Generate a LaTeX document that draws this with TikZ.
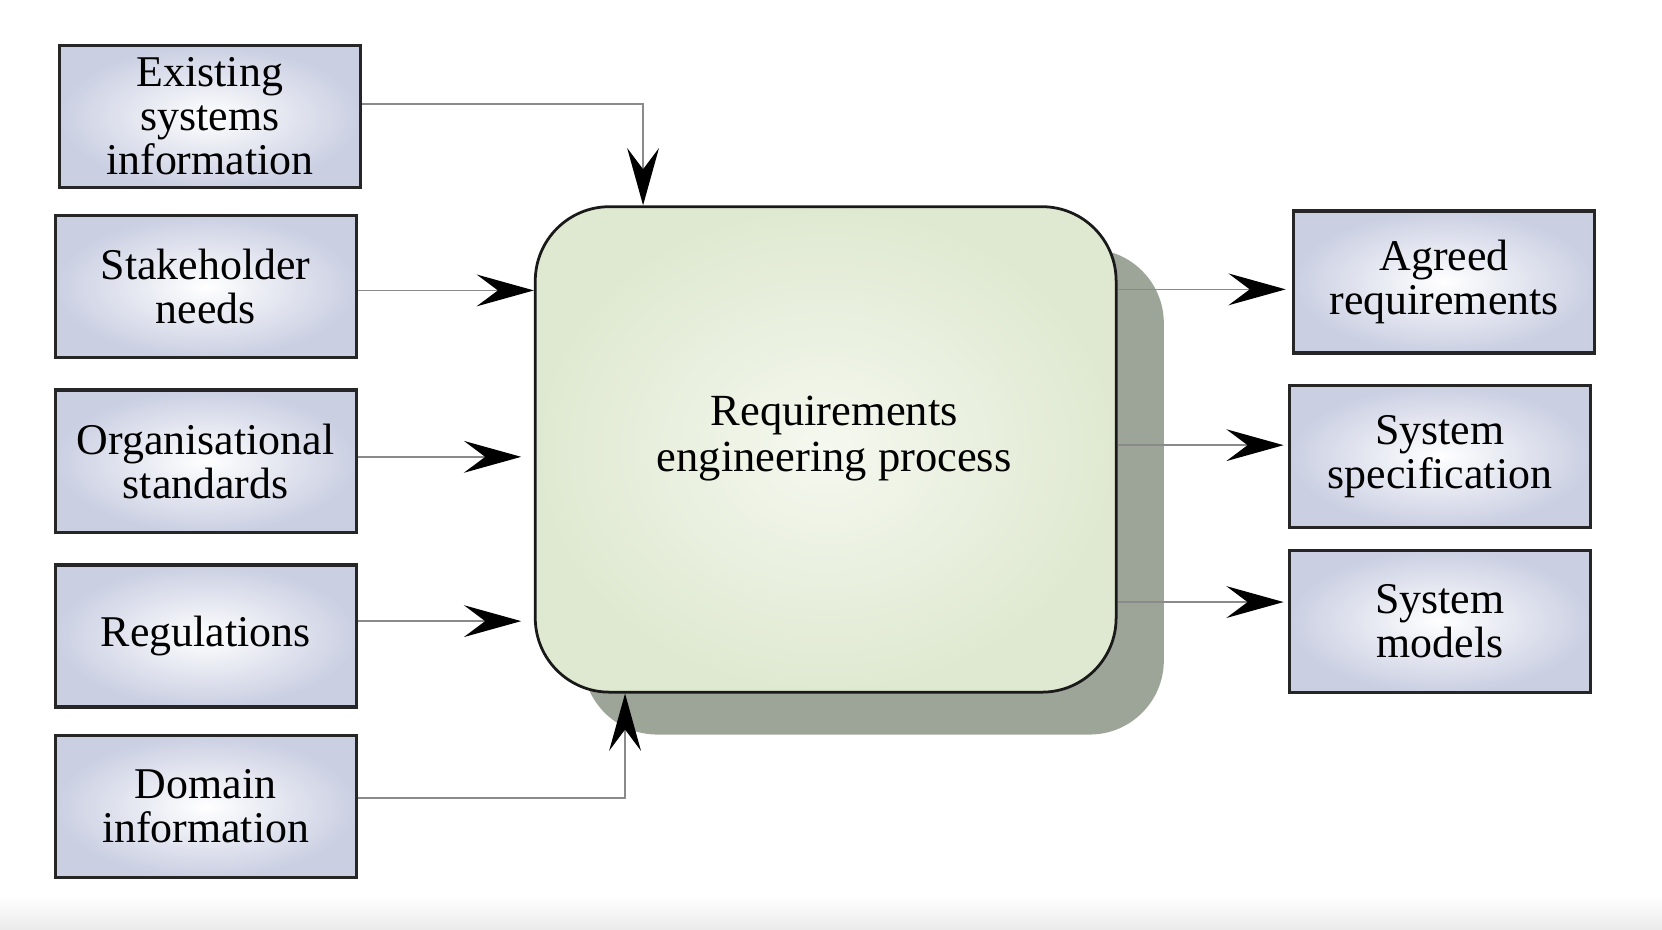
\documentclass[tikz,border=0pt]{standalone}
\usepackage{fontspec}
\setmainfont{Liberation Serif}
\usetikzlibrary{arrows.meta,calc}
\definecolor{boxedge}{HTML}{CACFE2}
\definecolor{procin}{HTML}{F5F8EF}
\definecolor{procout}{HTML}{DFE9D1}
\definecolor{shadowc}{HTML}{9CA597}
\definecolor{linec}{HTML}{8A8A8A}
\begin{document}
\begin{tikzpicture}[x=0.5pt,y=-0.5pt,
  inbox/.style={draw=black!85, line width=1.5pt, inner color=white, outer color=boxedge,
    minimum width=142pt, minimum height=67pt, align=center, inner sep=0pt,
    font=\fontsize{20.7}{20.8}\selectfont},
  conn/.style={draw=linec, line width=0.7pt,
    -{Stealth[length=27pt,width=15pt,inset=10pt,color=black]}}]
\useasboundingbox (0,0) rectangle (1568,877);
\shade[top color=white, bottom color=black!8] (0,845) rectangle (1568,877);

% shadow and process box
\node[fill=shadowc, rounded corners=35pt, minimum width=274pt, minimum height=229pt, inner sep=0pt] (procshadow) at (824,464) {};
\node[draw=black!90, line width=1.3pt, rounded corners=35pt, inner color=procin, outer color=procout,
  minimum width=274pt, minimum height=229pt, inner sep=0pt] (proc) at (779,424) {};
\node[align=center, font=\fontsize{21}{21.5}\selectfont] (proctext) at (787,414) {Requirements\\engineering process};

% input boxes
\node[inbox] (ex)  at (198,110) {Existing\\systems\\information};
\node[inbox] (st)  at (194,270.5) {Stakeholder\\needs};
\node[inbox] (org) at (194,435) {Organisational\\standards};
\node[inbox] (reg) at (194,600) {Regulations};
\node[inbox] (dom) at (194,761) {Domain\\information};

% output boxes
\node[inbox] (agr) at (1362.5,266) {Agreed\\requirements};
\node[inbox] (spec) at (1358.5,430.5) {System\\specification};
\node[inbox] (mod) at (1358.5,586) {System\\models};

\coordinate (topin) at ($(proc.north west)+(103,0)$);
\coordinate (botin) at ($(proc.south west)+(86,0)$);

\draw[conn] (ex.east |- 0,98) -| (topin);
\draw[conn] (st.east |- 0,274) -- (proc.west |- 0,274);
\draw[conn, shorten >=6pt] (org.east |- 0,431) -- (proc.west |- 0,431);
\draw[conn, shorten >=6pt] (reg.east |- 0,586) -- (proc.west |- 0,586);
\draw[conn] (dom.east |- 0,753) -| (botin);

\draw[conn, shorten >=3pt] (proc.east |- 0,273) -- (agr.west |- 0,273);
\draw[conn, shorten >=2pt] (proc.east |- 0,420) -- (spec.west |- 0,420);
\draw[conn, shorten >=2pt] (proc.east |- 0,568) -- (mod.west |- 0,568);
\end{tikzpicture}
\end{document}
